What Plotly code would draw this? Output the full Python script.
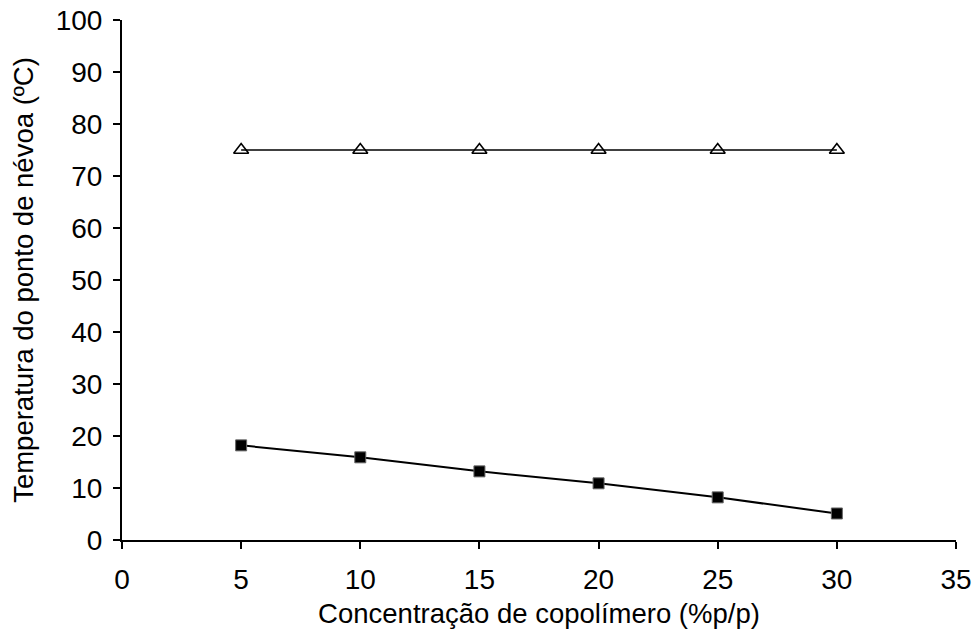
import plotly.graph_objects as go

conc = [5, 10, 15, 20, 25, 30]
temp_square = [18.2, 15.9, 13.2, 10.9, 8.2, 5.1]
temp_triangle = [75, 75, 75, 75, 75, 75]
x_ticks = [0, 5, 10, 15, 20, 25, 30, 35]
y_ticks = [0, 10, 20, 30, 40, 50, 60, 70, 80, 90, 100]

fig = go.Figure()
fig.add_trace(go.Scatter(x=conc, y=temp_triangle, mode="lines+markers",
                         line=dict(color="black", width=1.3),
                         marker=dict(symbol="triangle-up-open", size=13, color="black",
                                     line=dict(width=1.6, color="black")),
                         showlegend=False))
fig.add_trace(go.Scatter(x=conc, y=temp_square, mode="lines+markers",
                         line=dict(color="black", width=2),
                         marker=dict(symbol="square", size=11, color="black",
                                     line=dict(width=1, color="#666")),
                         showlegend=False))

font = dict(family="Liberation Sans, Arial", size=28, color="black")
fig.update_layout(
    width=979, height=644,
    margin=dict(l=122, r=23, t=20, b=104, autoexpand=False),
    plot_bgcolor="white", paper_bgcolor="white",
    font=font,
    xaxis=dict(range=[0, 35], tickvals=x_ticks, showgrid=False, zeroline=False,
               showline=True, linecolor="black", linewidth=2, automargin=False,
               ticks="outside", ticklen=7, tickwidth=2, tickcolor="black",
               ticklabelstandoff=6, ticklabeloverflow="allow",
               title=dict(text="Concentração de copolímero (%p/p)", font=dict(size=27.5), standoff=10)),
    yaxis=dict(range=[0, 100], tickvals=y_ticks, showgrid=False, zeroline=False,
               showline=True, linecolor="black", linewidth=2, automargin=False,
               ticks="outside", ticklen=7, tickwidth=2, tickcolor="black",
               ticklabelstandoff=5, ticklabeloverflow="allow",
               title=dict(text="Temperatura do ponto de névoa (ºC)", font=dict(size=27.5), standoff=14)),
)
fig.write_html("out.html", config={"displayModeBar": False},
               post_script="document.body.style.margin='0';document.body.style.overflow='hidden';")
